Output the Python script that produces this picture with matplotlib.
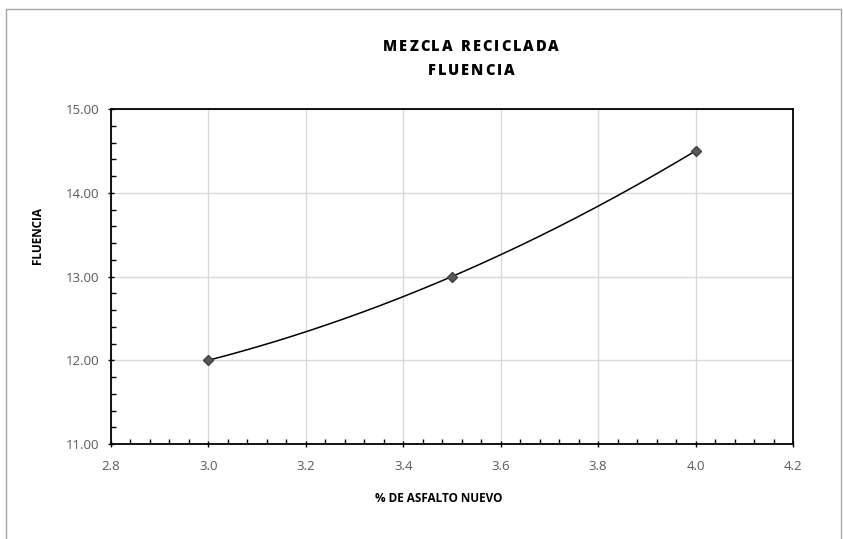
import numpy as np
import matplotlib
matplotlib.use("Agg")
import matplotlib.pyplot as plt
from matplotlib.ticker import MultipleLocator, FormatStrFormatter
from matplotlib.lines import Line2D

# Data: % of new asphalt vs. flow
asfalto = [3.0, 3.5, 4.0]
fluencia = [12.0, 13.0, 14.5]

x_ticks = [2.8, 3.0, 3.2, 3.4, 3.6, 3.8, 4.0, 4.2]
y_ticks = [11.0, 12.0, 13.0, 14.0, 15.0]

titulo = ['MEZCLA RECICLADA', 'FLUENCIA']

plt.rcParams['font.family'] = ['Open Sans', 'DejaVu Sans']

W, H = 843, 539
fig = plt.figure(figsize=(W / 100, H / 100), dpi=100)
ax = fig.add_axes([111 / W, 1 - 444 / H, (793 - 111) / W, (444 - 109) / H])

# smooth curve through the points
coef = np.polyfit(asfalto, fluencia, 2)
xs = np.linspace(min(asfalto), max(asfalto), 200)
ax.plot(xs, np.polyval(coef, xs), color='black', lw=1.1, zorder=3)
ax.plot(asfalto, fluencia, linestyle='none', marker='D', markersize=5.5,
        color='#595959', markeredgecolor='#404040', zorder=4)

ax.set_xlim(x_ticks[0], x_ticks[-1])
ax.set_ylim(y_ticks[0], y_ticks[-1])
ax.set_xticks(x_ticks)
ax.set_yticks(y_ticks)
ax.xaxis.set_major_formatter(FormatStrFormatter('%.1f'))
ax.yaxis.set_major_formatter(FormatStrFormatter('%.2f'))
ax.xaxis.set_minor_locator(MultipleLocator(0.04))
ax.yaxis.set_minor_locator(MultipleLocator(0.2))

ax.grid(True, which='major', color='#d9d9d9', lw=1.0, zorder=0)
ax.set_axisbelow(True)
for s in ax.spines.values():
    s.set_color('black')
    s.set_linewidth(1.3)

ax.tick_params(axis='both', which='major', direction='inout', length=5,
               width=1.0, labelsize=9.5, labelcolor='#595959', pad=6)
ax.tick_params(axis='both', which='minor', direction='in', length=3.5, width=1.0)
ax.tick_params(axis='x', which='both', top=False)
ax.tick_params(axis='y', which='both', right=False)
ax.tick_params(axis='x', which='major', pad=9)

ax.set_xlabel('% DE ASFALTO NUEVO', fontsize=8.5, fontweight='bold')
ax.xaxis.set_label_coords((439 - 111) / 682, (444 - 498) / 335)
ax.set_ylabel('FLUENCIA', fontsize=8.5, fontweight='bold')
ax.yaxis.set_label_coords((37 - 111) / 682, (444 - 235) / 335)
ax.xaxis.label.set_va('center')
ax.yaxis.label.set_va('center')


def tracked_text(s, xc, yc, track_px, **kw):
    """Centered title line with extra spacing between letters."""
    renderer = fig.canvas.get_renderer()
    widths = []
    for ch in s:
        t = fig.text(0, 0, ch if ch != ' ' else 'n', **kw)
        widths.append(t.get_window_extent(renderer).width * (0.5 if ch == ' ' else 1.0))
        t.remove()
    total = sum(widths) + track_px * (len(s) - 1)
    x = xc - total / 2
    for ch, w in zip(s, widths):
        if ch != ' ':
            fig.text(x / W, 1 - yc / H, ch, ha='left', va='center', **kw)
        x += w + track_px


tracked_text(titulo[0], 471, 47, 1.9, fontsize=10.5, fontweight='heavy')
tracked_text(titulo[1], 471, 71, 1.9, fontsize=10.5, fontweight='heavy')

# outer chart border (left, top, right)
bx = [6 / W, 6 / W, 840.5 / W, 840.5 / W]
by = [0.0, 1 - 9 / H, 1 - 9 / H, 0.0]
fig.lines.append(Line2D(bx, by, transform=fig.transFigure, color='#a6a6a6', lw=1.0))

fig.savefig('out.png', dpi=100)
